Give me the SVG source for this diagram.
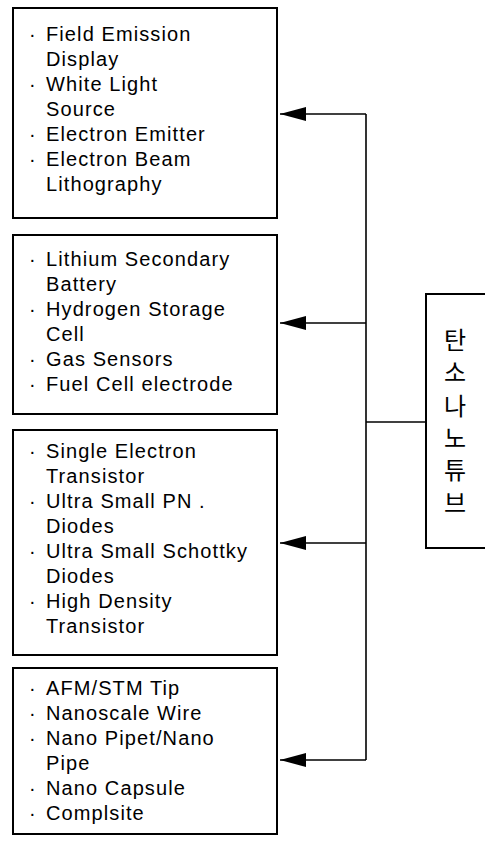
<svg xmlns="http://www.w3.org/2000/svg" width="485" height="845" viewBox="0 0 485 845">
<style>
.box{fill:#fff;stroke:#000;stroke-width:2}
.t{font-family:"Liberation Sans",Arial,sans-serif;font-size:20px;letter-spacing:1.1px;fill:#000}
.k{font-family:"Noto Sans CJK KR","Noto Sans CJK SC",sans-serif;font-size:24px;fill:#000;text-anchor:middle}
.c{fill:none;stroke:#000;stroke-width:1.6}
</style>
<defs>
<marker id="ah" viewBox="0 0 26 14" refX="26" refY="7" markerWidth="26" markerHeight="14" markerUnits="userSpaceOnUse" orient="auto">
<path d="M0,0 L26,7 L0,14 Z" fill="#000"/>
</marker>
</defs>
<rect width="485" height="845" fill="#fff"/>
<g id="box1">
<rect class="box" x="13" y="8" width="264" height="210"/>
<text class="t"><tspan x="29" y="41">·</tspan><tspan x="46" y="41">Field Emission</tspan><tspan x="46" y="66">Display</tspan><tspan x="29" y="91">·</tspan><tspan x="46" y="91">White Light</tspan><tspan x="46" y="116">Source</tspan><tspan x="29" y="141">·</tspan><tspan x="46" y="141">Electron Emitter</tspan><tspan x="29" y="166">·</tspan><tspan x="46" y="166">Electron Beam</tspan><tspan x="46" y="191">Lithography</tspan></text>
</g>
<g id="box2">
<rect class="box" x="13" y="235" width="264" height="179"/>
<text class="t"><tspan x="29" y="266">·</tspan><tspan x="46" y="266">Lithium Secondary</tspan><tspan x="46" y="291">Battery</tspan><tspan x="29" y="316">·</tspan><tspan x="46" y="316">Hydrogen Storage</tspan><tspan x="46" y="341">Cell</tspan><tspan x="29" y="366">·</tspan><tspan x="46" y="366">Gas Sensors</tspan><tspan x="29" y="391">·</tspan><tspan x="46" y="391">Fuel Cell electrode</tspan></text>
</g>
<g id="box3">
<rect class="box" x="13" y="430" width="264" height="225"/>
<text class="t"><tspan x="29" y="458">·</tspan><tspan x="46" y="458">Single Electron</tspan><tspan x="46" y="483">Transistor</tspan><tspan x="29" y="508">·</tspan><tspan x="46" y="508">Ultra Small PN</tspan><tspan x="199" y="508">.</tspan><tspan x="46" y="533">Diodes</tspan><tspan x="29" y="558">·</tspan><tspan x="46" y="558">Ultra Small Schottky</tspan><tspan x="46" y="583">Diodes</tspan><tspan x="29" y="608">·</tspan><tspan x="46" y="608">High Density</tspan><tspan x="46" y="633">Transistor</tspan></text>
</g>
<g id="box4">
<rect class="box" x="13" y="668" width="264" height="166"/>
<text class="t"><tspan x="29" y="695">·</tspan><tspan x="46" y="695">AFM/STM Tip</tspan><tspan x="29" y="720">·</tspan><tspan x="46" y="720">Nanoscale Wire</tspan><tspan x="29" y="745">·</tspan><tspan x="46" y="745">Nano Pipet/Nano</tspan><tspan x="46" y="770">Pipe</tspan><tspan x="29" y="795">·</tspan><tspan x="46" y="795">Nano Capsule</tspan><tspan x="29" y="820">·</tspan><tspan x="46" y="820">Complsite</tspan></text>
</g>
<g id="cnt">
<rect class="box" x="426" y="294" width="70" height="254"/>
<text class="k"><tspan x="455" y="349">탄</tspan><tspan x="455" y="381">소</tspan><tspan x="455" y="415">나</tspan><tspan x="455" y="447">노</tspan><tspan x="455" y="479">튜</tspan><tspan x="455" y="512">브</tspan></text>
</g>
<g id="connectors">
<path class="c" d="M366,114 V760"/>
<path class="c" d="M366,422 H426"/>
<path class="c" d="M366,114 H280" marker-end="url(#ah)"/>
<path class="c" d="M366,323 H280" marker-end="url(#ah)"/>
<path class="c" d="M366,543 H280" marker-end="url(#ah)"/>
<path class="c" d="M366,760 H280" marker-end="url(#ah)"/>
</g>
</svg>
